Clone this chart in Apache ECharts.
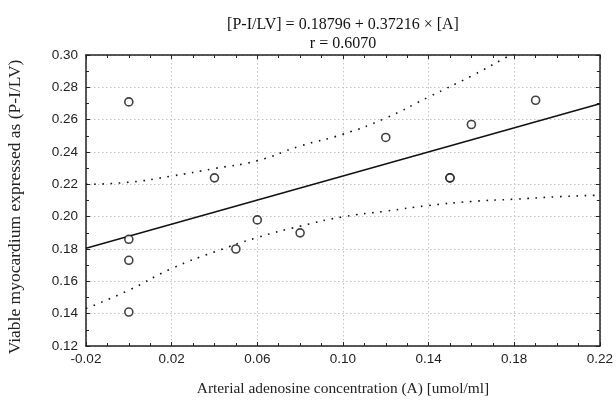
<!DOCTYPE html>
<html>
<head>
<meta charset="utf-8">
<script src="https://cdn.jsdelivr.net/npm/echarts@6/dist/echarts.min.js"></script>
<style>html,body{margin:0;padding:0;background:#fff}#c{width:616px;height:401px}</style>
</head>
<body>
<div id="c"></div>
<script>
// ---- data ----
var titleLines = ['[P-I/LV] = 0.18796 + 0.37216 \u00d7 [A]', 'r = 0.6070'];
var xName = 'Arterial adenosine concentration (A) [umol/ml]';
var yName = 'Viable myocardium expressed as (P-I/LV)';
var adenosine = [0.00, 0.00, 0.00, 0.00, 0.04, 0.05, 0.06, 0.08, 0.12, 0.15, 0.15, 0.16, 0.19];
var viable    = [0.271, 0.186, 0.173, 0.141, 0.224, 0.180, 0.198, 0.190, 0.249, 0.224, 0.224, 0.257, 0.272];
var fitX = [-0.02, 0.22];
var fitY = [0.1805, 0.2698];
var upperX = [-0.02, 0.00, 0.02, 0.04, 0.06, 0.08, 0.10, 0.12, 0.14, 0.16, 0.18, 0.20];
var upperY = [0.220, 0.2213, 0.2251, 0.2298, 0.2346, 0.2437, 0.2510, 0.2610, 0.2740, 0.2870, 0.3010, 0.3130];
var lowerX = [-0.02, 0.00, 0.02, 0.04, 0.06, 0.08, 0.10, 0.12, 0.14, 0.16, 0.18, 0.20, 0.22];
var lowerY = [0.1432, 0.1545, 0.1679, 0.1782, 0.1871, 0.1941, 0.1999, 0.2034, 0.2069, 0.2094, 0.2108, 0.2123, 0.2133];
var xTicks = {min: -0.02, max: 0.22, step: 0.04};
var yTicks = {min: 0.12, max: 0.30, step: 0.02};

function pairs(xs, ys) { return xs.map(function (x, i) { return [x, ys[i]]; }); }

var chart = echarts.init(document.getElementById('c'), null, {renderer: 'canvas'});
var labelFont = {fontFamily: 'Liberation Sans, Arial, sans-serif', fontSize: 13.5, color: '#222'};
var serif = 'Liberation Serif, Times New Roman, serif';
var frame = {show: true, onZero: false, lineStyle: {color: '#222', width: 1.5}};
var split = {show: true, lineStyle: {color: '#c4c4c4', width: 1, type: [1.5, 2.5]}};

function xAxisCfg(pos, main) {
  return {
    type: 'value', position: pos, min: xTicks.min, max: xTicks.max, interval: xTicks.step,
    axisLine: frame,
    axisTick: {show: true, inside: true, length: 4, lineStyle: {color: '#222', width: 1}},
    minorTick: {show: true, splitNumber: 4, length: 3, lineStyle: {color: '#222', width: 1}},
    splitLine: main ? split : {show: false},
    axisLabel: main ? Object.assign({margin: 6, formatter: function (v) { return v.toFixed(2); }}, labelFont) : {show: false},
    name: main ? xName : '', nameLocation: 'middle', nameGap: 35,
    nameTextStyle: {fontFamily: serif, fontSize: 15.4, color: '#222'}
  };
}
function yAxisCfg(pos, main) {
  return {
    type: 'value', position: pos, min: yTicks.min, max: yTicks.max, interval: yTicks.step,
    axisLine: frame,
    axisTick: {show: true, inside: true, length: 4, lineStyle: {color: '#222', width: 1}},
    minorTick: {show: true, splitNumber: 2, length: 3, lineStyle: {color: '#222', width: 1}},
    splitLine: main ? split : {show: false},
    axisLabel: main ? Object.assign({margin: 8, formatter: function (v) { return v.toFixed(2); }}, labelFont) : {show: false}
  };
}

var dotted = {color: '#111', width: 1.6, type: [1.6, 6.6], cap: 'butt'};

chart.setOption({
  animation: false,
  backgroundColor: '#fff',
  title: {
    text: titleLines.join('\n'), left: 338, top: 10, textAlign: 'center',
    textStyle: {fontFamily: serif, fontSize: 16, fontWeight: 'normal', color: '#111', lineHeight: 19}
  },
  graphic: [{
    type: 'text', x: 15, y: 207, rotation: Math.PI / 2,
    style: {text: yName, fontFamily: serif, fontSize: 17.5, fill: '#222', align: 'center', verticalAlign: 'middle'}
  }],
  grid: {left: 86, right: 16, top: 55, bottom: 55},
  xAxis: [xAxisCfg('bottom', true), xAxisCfg('top', false)],
  yAxis: [yAxisCfg('left', true), yAxisCfg('right', false)],
  series: [
    {type: 'line', data: pairs(upperX, upperY), smooth: true, showSymbol: false, symbol: 'none', clip: true,
     lineStyle: dotted, z: 3},
    {type: 'line', data: pairs(lowerX, lowerY), smooth: true, showSymbol: false, symbol: 'none', clip: true,
     lineStyle: dotted, z: 3},
    {type: 'line', data: pairs(fitX, fitY), showSymbol: false, symbol: 'none',
     lineStyle: {color: '#111', width: 1.5}, z: 4},
    {type: 'scatter', data: pairs(adenosine, viable), symbol: 'circle', symbolSize: 8,
     itemStyle: {color: '#fff', borderColor: '#111', borderWidth: 1.6}, z: 5}
  ]
});
</script>
</body>
</html>
